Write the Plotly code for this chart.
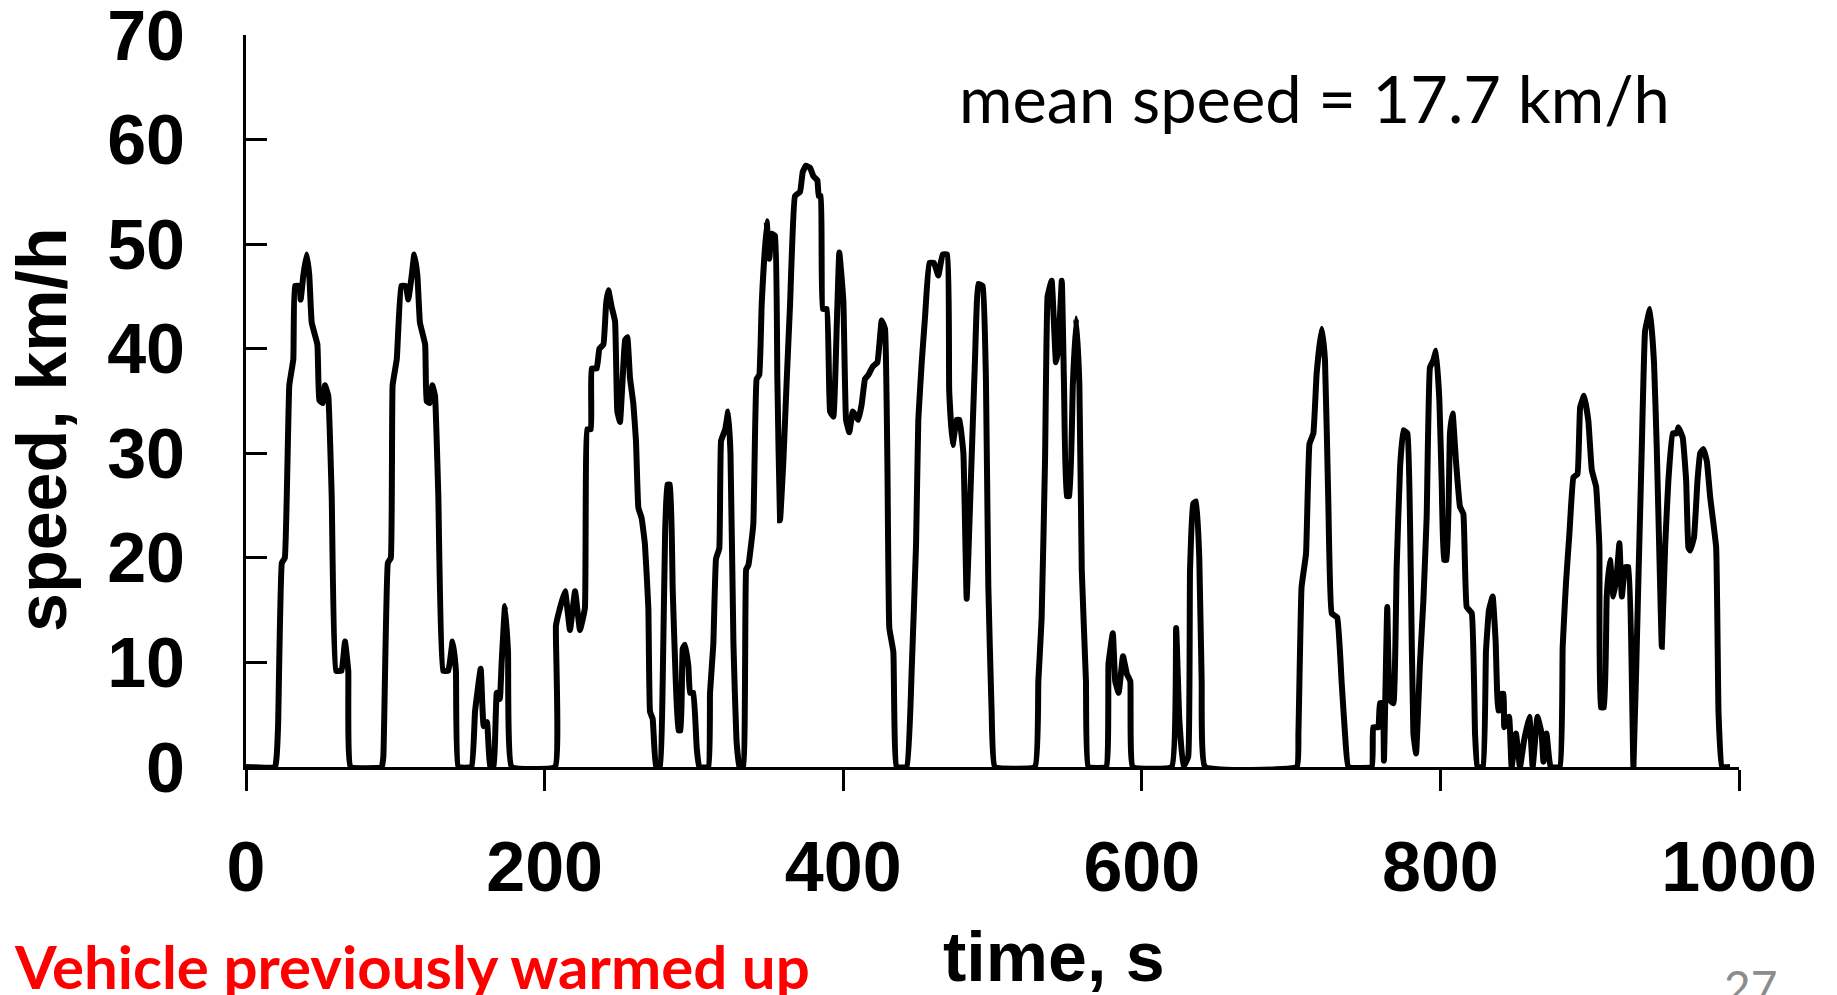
import plotly.graph_objects as go

# time (s) and speed (km/h)
time_s = [0, 19.5, 20.5, 21.5, 24, 26, 29, 31.7, 32.8, 35.7, 36.6, 38.4, 40.6, 42.4, 44, 47.8, 49.1, 51.3, 52.9, 55.1,
          57.4, 60.3, 64, 66.3, 68.5, 70.1,
          90.9, 92, 95, 97, 98.2, 101, 104, 107, 108.7, 111, 112.7, 114.8, 116.5, 120, 121, 123, 124.8, 126.6,
          128.8, 132, 135.5, 138.4, 140.6, 142.2,
          151, 153.4, 157.2, 159.2, 161.4, 163.5, 165.8, 166.8, 168, 170, 171.2, 173.5, 175.5, 178,
          207, 207.6, 210.3, 213.7, 217, 220.4, 223.7, 227, 228.6, 231, 231.5, 234.9, 236.7, 239.4, 241.2, 242.7,
          244.9, 247.2, 248.7, 250.5, 252.3, 253.9, 255.4, 257.2, 259.4, 261.2, 262.8, 265, 267.2, 269.5, 270.6,
          272.4, 274.6, 277.3, 279.1, 280.7, 282.2, 284, 285.8, 287.4, 289.6, 291.1, 292.5, 294, 296.3, 297.4,
          299.6, 301.9, 303.6, 309.7, 310.8, 313, 314.8, 317, 318.2, 321, 323, 324.5, 326.5, 328.5, 330.5,
          333, 335, 336.5, 339.8, 342, 343.8, 345.4, 348.7, 350.5, 352, 354.3, 355.9, 357.7, 359.9, 362.2, 364.4,
          367.7, 371.1, 372.9, 375, 377.8, 380, 382.7, 383.6, 385, 386.3, 389, 391.2, 393.4, 395.7, 397.4, 400.1,
          401.9, 404.1, 406.4, 410.1, 412.4, 414.6, 416.9, 419.8, 422.9, 425.8, 428, 429.6, 430.9, 433.6, 435.8,
          442.5, 445.9, 448.8, 450.3, 452.6, 454.8, 457.7, 460.8, 463.7, 466.6, 469.7, 471, 473.3, 476, 477.8,
          480.5, 482.7, 485, 488.3, 490.5, 493.4, 495.6, 497.2, 499.4, 501.6,
          528.4, 530.7, 532.9, 535.2, 536.9, 539.6, 542.5, 544.1, 546.4, 547.9, 549.7, 551.5, 553.8, 556, 558.2,
          559.8, 562.6, 564.2,
          576.1, 577.7, 580.6, 582.2, 584.5, 587.4, 590, 592.3, 594,
          620, 623, 625.1, 627.8, 631.1, 632.3, 634.5, 636.5, 638.5, 640.1, 642.4,
          703.8, 704.9, 707, 710, 712.3, 714.9, 717.1, 720.5, 722.7, 724.9, 727.2, 730.9, 733.9, 736.1, 738.4,
          754, 755, 758.4, 759.5, 761.3, 762.2, 764.4, 766.2, 768.5, 770.7, 773, 775.2, 777.9, 780.1, 781.9,
          783.7, 786.3, 788.6, 790.8, 793, 795.3, 797.1, 799.3, 800.9, 802.4, 804.2, 806.4, 808.2, 810.4, 813.1,
          815.4, 817.6, 821, 823.2, 824.8,
          828.5, 830.5, 832.5, 835, 837, 838.8, 840.5, 841, 842.3, 842.8, 846, 847.7, 850.6, 853.3, 856, 859.6,
          861.8, 865, 867.8, 869, 871.1, 873.8,
          880, 881.9, 884.2, 886.4, 889.1, 891.8, 893.6, 896.2, 899.1, 901.4, 904.3, 906.5, 907.4, 909.6, 911.4,
          913.6, 915.9, 918.2, 919.9, 921.5, 923.8, 926, 929.3, 932.6, 934.9, 937.1, 940.4, 943.1, 944.9, 947.1,
          948.3, 950.5, 952.7, 955.6, 958.3, 959.4, 962.3, 964.6, 966.1, 967.3, 969.9, 972.2, 974, 976.2, 978.5,
          980.7, 984.7, 986.3, 988.6, 994]

speed_kmh = [0, 0, 1, 4, 19.5, 20, 36.5, 39, 46, 46, 44.7, 47, 49, 47, 42.5, 40.4, 35.1, 34.8, 36.5, 35.5,
             25.9, 9.2, 9.2, 12, 9.2, 0,
             0, 1, 19.5, 20, 36.5, 39, 46, 46, 44.7, 47, 49, 47, 42.5, 40.4, 35, 34.8, 36.5, 35.5,
             26, 9.2, 9.2, 12, 9.2, 0,
             0, 5.3, 9.4, 3.9, 4.3, 0, 0, 2.5, 7.1, 6.5, 9.9, 15.4, 11, 0,
             0, 13.5, 15.2, 16.8, 13.1, 16.8, 13.1, 15.2, 32.3, 32.3, 38.1, 38.1, 40, 40.4, 44.3, 45.6,
             44, 42.6, 34, 33, 37.2, 40.8, 41.1, 37.2, 34.8, 31.2, 24.8, 23.8, 21.3, 15.2, 5.3,
             4.6, 0, 0, 8.2, 22.3, 27, 27, 17, 10, 3.5, 3.5, 11.3, 11.7, 9.6, 7.1,
             7.1, 1.8, 0, 0, 7.1, 11.7, 19.9, 20.9, 31.2, 32.3, 34, 30, 11.7, 2.6, 0,
             0, 18.9, 19.3, 23.2, 37.1, 37.5, 44.2, 52.2, 48.6, 51, 50.8, 37.1, 23.6, 29.2, 37.1, 44.2,
             54.6, 55, 56.9, 57.5, 57.3, 56.5, 56.1, 54.6, 54.6, 43.8, 43.8, 34, 33.5, 42.3, 49.2, 44.6,
             33.2, 32, 34, 33.2, 34.7, 37.1, 37.5, 38.3, 38.7, 42.7, 41.9, 29.2, 13.3, 11, 0,
             0, 9.4, 21.3, 33.2, 38.7, 43, 48.2, 48.2, 47, 49, 49, 36, 30.8, 33.2, 33.2,
             30, 16.1, 25.2, 39.1, 46.2, 46, 37.1, 17.3, 5.4, 0,
             0, 8.2, 14.2, 29.4, 45, 46.5, 38.7, 40.1, 46.5, 36.5, 25.9, 25.9, 36.5, 42.9, 36.5,
             18.8, 8.2, 0,
             0, 9.9, 12.8, 8.2, 7.1, 10.6, 8.9, 8.2, 0,
             0, 13.3, 4.6, 0, 1, 18.8, 25.2, 25.4, 20, 8.2, 0,
             0, 3.2, 17.2, 20.4, 30.9, 31.9, 37.6, 41.9, 38.9, 25.5, 14.7, 14.3, 8, 3.2, 0,
             0, 3.8, 3.8, 6.1, 6.1, 0.6, 15.3, 6.4, 6.1, 19.1, 28.7, 32.2, 31.9, 19.1, 3.2,
             1.3, 9.9, 15.9, 23.9, 38.2, 38.9, 39.8, 35.1, 27.1, 19.8, 19.8, 31.9, 33.8, 29.3, 24.9,
             24.2, 15.3, 14.7, 3.2, 0,
             0, 11, 15, 16.3, 12, 5.4, 5.5, 7, 7, 3.8, 4.8, 0, 3.2, 0, 2.5, 4.8,
             0, 4.8, 3.2, 0.5, 3.2, 0,
             0, 11.5, 17.8, 22.3, 27.7, 28, 34.4, 35.5, 33.1, 28.4, 26.8, 21, 5.7, 5.7, 16.3,
             19.8, 16.3, 18.5, 21.4, 16.3, 19.1, 19.1, 0, 17.8, 30.6, 41.7, 43.8, 38.6, 30.6, 17.8,
             11.5, 21, 27.4, 31.9, 31.9, 32.5, 31.5, 27.4, 21, 20.7, 22, 27.4, 30, 30.4, 29.2,
             25.8, 21, 5.1, 0, 0]

x_ticks = [0, 200, 400, 600, 800, 1000]
y_ticks = [0, 10, 20, 30, 40, 50, 60, 70]

x_title = "time, s"
y_title = "speed, km/h"
mean_label = "mean speed = 17.7 km/h"
note_label = "Vehicle previously warmed up"
page_label = "27"

fig = go.Figure()
fig.add_trace(go.Scatter(x=time_s, y=speed_kmh, mode="lines",
                         line=dict(color="black", width=6, shape="spline", smoothing=0.3),
                         hoverinfo="x+y"))

bold_font = dict(family="Liberation Sans, Arial, sans-serif", size=70, color="black", weight="bold")

fig.update_layout(
    width=1837, height=995, autosize=False,
    margin=dict(l=246, r=98, t=35, b=228, pad=0, autoexpand=False),
    paper_bgcolor="white", plot_bgcolor="white",
    showlegend=False,
    xaxis=dict(range=[0, 1000], tickmode="array", tickvals=x_ticks,
               ticks="outside", ticklen=21, tickwidth=3, tickcolor="black",
               showline=True, linewidth=3, linecolor="black",
               showgrid=False, zeroline=False, tickfont=bold_font, automargin=False,
               ticklabelstandoff=16, ticklabeloverflow="allow"),
    yaxis=dict(range=[0, 70], tickmode="array", tickvals=y_ticks,
               ticks="inside", ticklen=21, tickwidth=3, tickcolor="black",
               showline=True, linewidth=3, linecolor="black",
               showgrid=False, zeroline=False, tickfont=bold_font, automargin=False,
               ticklabelstandoff=44, ticklabeloverflow="allow"),
    annotations=[
        dict(text=x_title, xref="paper", yref="paper", x=0.5412, y=-0.2596,
             xanchor="center", yanchor="middle", showarrow=False, font=bold_font),
        dict(text=y_title, xref="paper", yref="paper", x=-0.137, y=0.461, textangle=-90,
             xanchor="center", yanchor="middle", showarrow=False, font=bold_font),
        dict(text=mean_label, xref="paper", yref="paper", x=0.4762, y=0.9139,
             xanchor="left", yanchor="middle", showarrow=False,
             font=dict(family="Lato, sans-serif", size=65, color="black")),
        dict(text=note_label, xref="paper", yref="paper", x=-0.1567, y=-0.2719,
             xanchor="left", yanchor="middle", showarrow=False,
             font=dict(family="Lato, sans-serif", size=60, color="#FF0000", weight="bold")),
        dict(text=page_label, xref="paper", yref="paper", x=0.9886, y=-0.3005,
             xanchor="left", yanchor="middle", showarrow=False,
             font=dict(family="Lato, sans-serif", size=46, color="#8C8C8C")),
    ],
)

fig.write_html("out.html", config={"displayModeBar": False},
               post_script="document.body.style.margin='0';document.body.style.overflow='hidden';")
